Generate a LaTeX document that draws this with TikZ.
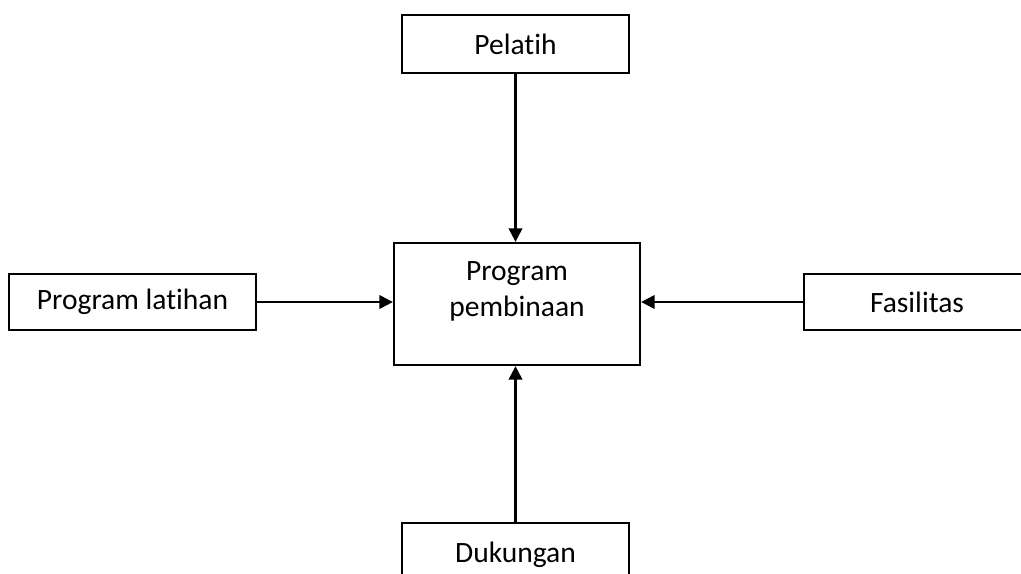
\documentclass[tikz,border=0pt]{standalone}
\usepackage{fontspec}
\setmainfont[Ligatures=NoCommon]{Carlito}
\usetikzlibrary{arrows.meta,positioning}

\begin{document}
\begin{tikzpicture}[>={Triangle[length=0.27cm, width=0.27cm]},
  box/.style={draw, line width=1.3pt, inner sep=0pt, font=\fontsize{16.8}{21}\selectfont},
  conn/.style={->, line width=1.3pt}]

  % Bingkai gambar
  \useasboundingbox (0,0) rectangle (20.42,-11.46);
  \clip (0,0) rectangle (20.42,-11.46);

  % Kotak tengah
  \node[box, minimum width=4.92cm, minimum height=2.44cm] (prog) at (10.34,-6.08) {};
  \node[align=center, font=\fontsize{16.8}{21}\selectfont, below=0.26cm of prog.north] (progtxt) {Program\\pembinaan};

  % Kotak-kotak masukan
  \node[box, minimum width=4.54cm, minimum height=1.16cm] (pel) at (10.31,-0.88) {Pelatih};
  \node[box, minimum width=4.94cm, minimum height=1.12cm] (lat) at (2.65,-6.04) {Program latihan};
  \node[box, minimum width=4.52cm, minimum height=1.12cm] (fas) at (18.34,-6.04) {Fasilitas};
  \node[box, minimum width=4.54cm, minimum height=1.28cm] (duk) at (10.31,-11.1) {Dukungan};

  % Panah ke program pembinaan
  \draw[conn] (pel.south) -- (pel.south |- prog.north);
  \draw[conn] (lat.east) -- (lat.east -| prog.west);
  \draw[conn] (fas.west) -- (fas.west -| prog.east);
  \draw[conn] (duk.north) -- (duk.north |- prog.south);

\end{tikzpicture}
\end{document}
